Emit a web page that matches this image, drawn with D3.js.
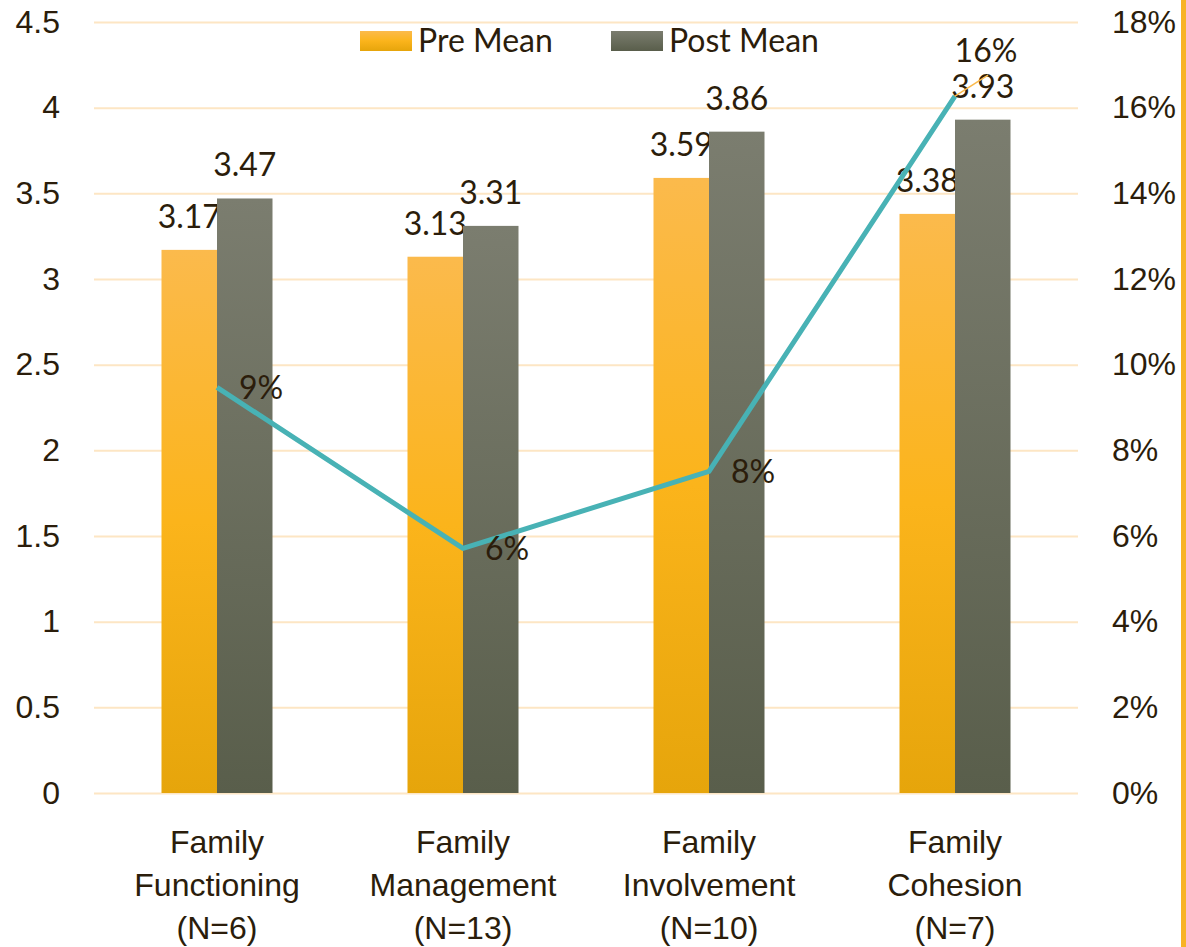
<!DOCTYPE html>
<html>
<head>
<meta charset="utf-8">
<script src="https://cdn.jsdelivr.net/npm/d3@7"></script>
<style>
  body { margin: 0; background: #fff; }
  svg { display: block; font-family: "Lato", "Open Sans", sans-serif; }
</style>
</head>
<body>
<div id="chart"></div>
<script>
// Chart data
const categories = ["Family Functioning (N=6)", "Family Management (N=13)", "Family Involvement (N=10)", "Family Cohesion (N=7)"];
const categoryLines = [
    ["Family", "Functioning", "(N=6)"],
    ["Family", "Management", "(N=13)"],
    ["Family", "Involvement", "(N=10)"],
    ["Family", "Cohesion", "(N=7)"]
];
const seriesNames = ["Pre Mean", "Post Mean"];
const preMean = [3.17, 3.13, 3.59, 3.38];
const postMean = [3.47, 3.31, 3.86, 3.93];
const pctChange = [0.0947, 0.0571, 0.0751, 0.1627];
const pctLabels = ["9%", "6%", "8%", "16%"];
const leftTicks = [0, 0.5, 1, 1.5, 2, 2.5, 3, 3.5, 4, 4.5];
const rightTicks = [0, 0.02, 0.04, 0.06, 0.08, 0.10, 0.12, 0.14, 0.16, 0.18];

const W = 1186, H = 947;
const margin = {top: 22, right: 108, bottom: 154, left: 94};
const width = W - margin.left - margin.right;
const height = H - margin.top - margin.bottom;
const textColor = "#2b1d0b";
const fontSize = 32;

const svg = d3.select("#chart")
    .append("svg")
    .attr("width", W)
    .attr("height", H);

// Gradients for bars
const defs = svg.append("defs");
const gradPre = defs.append("linearGradient").attr("id", "gradPre")
    .attr("x1", 0).attr("y1", 0).attr("x2", 0).attr("y2", 1);
gradPre.append("stop").attr("offset", "0%").attr("stop-color", "#fbba4c");
gradPre.append("stop").attr("offset", "50%").attr("stop-color", "#fbb41b");
gradPre.append("stop").attr("offset", "100%").attr("stop-color", "#e6a50b");

const gradPost = defs.append("linearGradient").attr("id", "gradPost")
    .attr("x1", 0).attr("y1", 0).attr("x2", 0).attr("y2", 1);
gradPost.append("stop").attr("offset", "0%").attr("stop-color", "#7b7d6f");
gradPost.append("stop").attr("offset", "100%").attr("stop-color", "#595e4b");

const g = svg.append("g")
    .attr("transform", `translate(${margin.left},${margin.top})`);

// Scales
const x0 = d3.scaleBand()
    .domain(categories)
    .range([0, width])
    .padding(0);

const barWidth = 55.5;
const x1 = d3.scaleBand()
    .domain(seriesNames)
    .range([x0.bandwidth() / 2 - barWidth, x0.bandwidth() / 2 + barWidth]);

const y = d3.scaleLinear().domain([0, 4.5]).range([height, 0]);
const y2 = d3.scaleLinear().domain([0, 0.18]).range([height, 0]);

const color = d3.scaleOrdinal().domain(seriesNames).range(["url(#gradPre)", "url(#gradPost)"]);

// Gridlines
g.append("g")
    .call(d3.axisLeft(y).tickValues(leftTicks).tickSize(-width).tickFormat(""))
    .call(s => s.select(".domain").remove())
    .selectAll("line")
    .attr("stroke", "#fde6c4")
    .attr("stroke-width", 2);

// Left axis
g.append("g")
    .call(d3.axisLeft(y).tickValues(leftTicks).tickSize(0).tickPadding(34).tickFormat(d3.format("")))
    .call(s => s.select(".domain").remove())
    .selectAll("text")
    .attr("fill", textColor)
    .style("font-size", fontSize + "px");

// Right axis
g.append("g")
    .attr("transform", `translate(${width},0)`)
    .call(d3.axisRight(y2).tickValues(rightTicks).tickSize(0).tickPadding(34).tickFormat(d3.format(".0%")))
    .call(s => s.select(".domain").remove())
    .selectAll("text")
    .attr("fill", textColor)
    .style("font-size", fontSize + "px");

// Bottom axis with wrapped labels
const xAxis = g.append("g")
    .attr("transform", `translate(0,${height})`)
    .call(d3.axisBottom(x0).tickSize(0).tickFormat(""))
    .call(s => s.select(".domain").remove());

xAxis.selectAll(".tick").each(function(d, i) {
    const t = d3.select(this).append("text")
        .attr("fill", textColor)
        .attr("text-anchor", "middle")
        .style("font-size", fontSize + "px");
    categoryLines[i].forEach((line, j) => {
        t.append("tspan")
            .attr("x", 0)
            .attr("y", 60 + j * 43)
            .text(line);
    });
});

// Bars
const barData = [];
categories.forEach((c, i) => {
    barData.push({cat: c, series: "Pre Mean", value: preMean[i]});
    barData.push({cat: c, series: "Post Mean", value: postMean[i]});
});

const groups = g.selectAll(".bar")
    .data(barData)
    .enter()
    .append("g")
    .attr("transform", d => `translate(${x0(d.cat)},0)`);

groups.append("rect")
    .attr("x", d => x1(d.series))
    .attr("y", d => y(d.value))
    .attr("width", x1.bandwidth())
    .attr("height", d => height - y(d.value))
    .attr("fill", d => color(d.series));

groups.append("text")
    .attr("x", d => x1(d.series) + x1.bandwidth() / 2)
    .attr("y", d => y(d.value) - 22)
    .attr("text-anchor", "middle")
    .attr("fill", textColor)
    .style("font-size", fontSize + "px")
    .text(d => d.value.toFixed(2));

// Percent change line
const lineData = categories.map((c, i) => ({cat: c, value: pctChange[i], label: pctLabels[i]}));
const cx = d => x0(d.cat) + x0.bandwidth() / 2;

const line = d3.line()
    .x(cx)
    .y(d => y2(d.value));

g.append("path")
    .datum(lineData)
    .attr("fill", "none")
    .attr("stroke", "#48b2b5")
    .attr("stroke-width", 5)
    .attr("stroke-linejoin", "round")
    .attr("d", line);

// Line labels (last one moved up with a leader line)
lineData.forEach((d, i) => {
    const px = cx(d), py = y2(d.value);
    if (i === lineData.length - 1) {
        g.append("line")
            .attr("x1", px).attr("y1", py)
            .attr("x2", px + 33).attr("y2", py - 21)
            .attr("stroke", "#fbb94a")
            .attr("stroke-width", 1.5);
        g.append("text")
            .attr("x", px + 31)
            .attr("y", py - 34)
            .attr("text-anchor", "middle")
            .attr("fill", textColor)
            .style("font-size", fontSize + "px")
            .text(d.label);
    } else {
        g.append("text")
            .attr("x", px + 22)
            .attr("y", py + 12)
            .attr("fill", textColor)
            .style("font-size", fontSize + "px")
            .text(d.label);
    }
});

// Legend
const legend = svg.append("g").attr("transform", "translate(360,31)");
const legendX = [0, 251];
seriesNames.forEach((s, i) => {
    legend.append("rect")
        .attr("x", legendX[i])
        .attr("y", 0)
        .attr("width", 52)
        .attr("height", 20)
        .attr("fill", color(s));
    legend.append("text")
        .attr("x", legendX[i] + 58)
        .attr("y", 21)
        .attr("fill", textColor)
        .style("font-size", fontSize + "px")
        .text(s);
});

// Orange edge on the right
svg.append("rect")
    .attr("x", 1181)
    .attr("y", 0)
    .attr("width", 5)
    .attr("height", H)
    .attr("fill", "#f8b324");
</script>
</body>
</html>
